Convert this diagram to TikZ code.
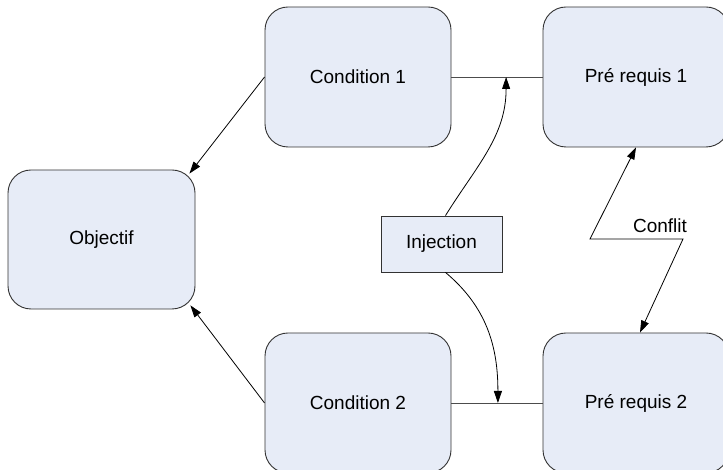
\documentclass[tikz,border=0pt]{standalone}
\usepackage{fontspec}
\setmainfont{Liberation Sans}
\usetikzlibrary{arrows.meta,calc}
\definecolor{boxfill}{RGB}{231,236,247}
\definecolor{boxline}{RGB}{50,50,50}
\tikzset{
  bigbox/.style={draw=boxline, fill=boxfill, line width=0.9pt, rounded corners=23pt,
    minimum width=186pt, minimum height=140pt, inner sep=0pt,
    font=\fontsize{19}{23}\selectfont},
  injbox/.style={draw=boxline, fill=boxfill, line width=0.9pt,
    minimum width=121pt, minimum height=56pt, inner sep=0pt,
    font=\fontsize{19}{23}\selectfont},
  link/.style={draw=black!70, line width=0.9pt},
  arr/.style={draw=black, line width=0.8pt, -{Triangle[length=12pt,width=8pt]}},
  darr/.style={draw=black, line width=0.8pt, {Triangle[length=12pt,width=8pt]}-{Triangle[length=12pt,width=8pt]}},
  lbl/.style={font=\fontsize{19}{23}\selectfont, inner sep=0pt}
}
\begin{document}
\begin{tikzpicture}[x=1pt,y=1pt]
\useasboundingbox (0,0) rectangle (723,470);
\clip (0,0) rectangle (723,470);
\node[bigbox] (c1) at (358,393) {Condition 1};
\node[bigbox] (p1) at (636,393) {Pré requis 1};
\node[bigbox, minimum width=187pt, minimum height=139pt] (obj) at (101.5,230.5) {Objectif};
\node[bigbox] (c2) at (358,67) {Condition 2};
\node[bigbox] (p2) at (636,67) {Pré requis 2};
\node[injbox] (inj) at (441.5,226) {Injection};
% horizontal links
\draw[link] (c1.east) -- (p1.west);
\draw[link] (c2.east) -- (p2.west);
\coordinate (t1) at ($(c1.east)!0.6!(p1.west)$);
\coordinate (t2) at ($(c2.east)!0.51!(p2.west)$);
% injection arrows
\draw[arr] ([xshift=4pt]inj.north) to[out=58,in=-90] (t1);
\draw[arr] ([xshift=4pt]inj.south) to[out=-40,in=90] (t2);
% to objectif
\draw[arr] (c1.west) -- ([shift={(-6,-4)}]obj.north east);
\draw[arr] (c2.west) -- ([shift={(-5,4)}]obj.south east);
% conflict
\coordinate (k1) at (590,231);
\coordinate (k2) at (683,231);
\draw[darr] (p1.south) -- (k1) -- (k2) -- ([xshift=4pt]p2.north);
\node[lbl, anchor=south] (cf) at (660,237) {Conflit};
\end{tikzpicture}
\end{document}
